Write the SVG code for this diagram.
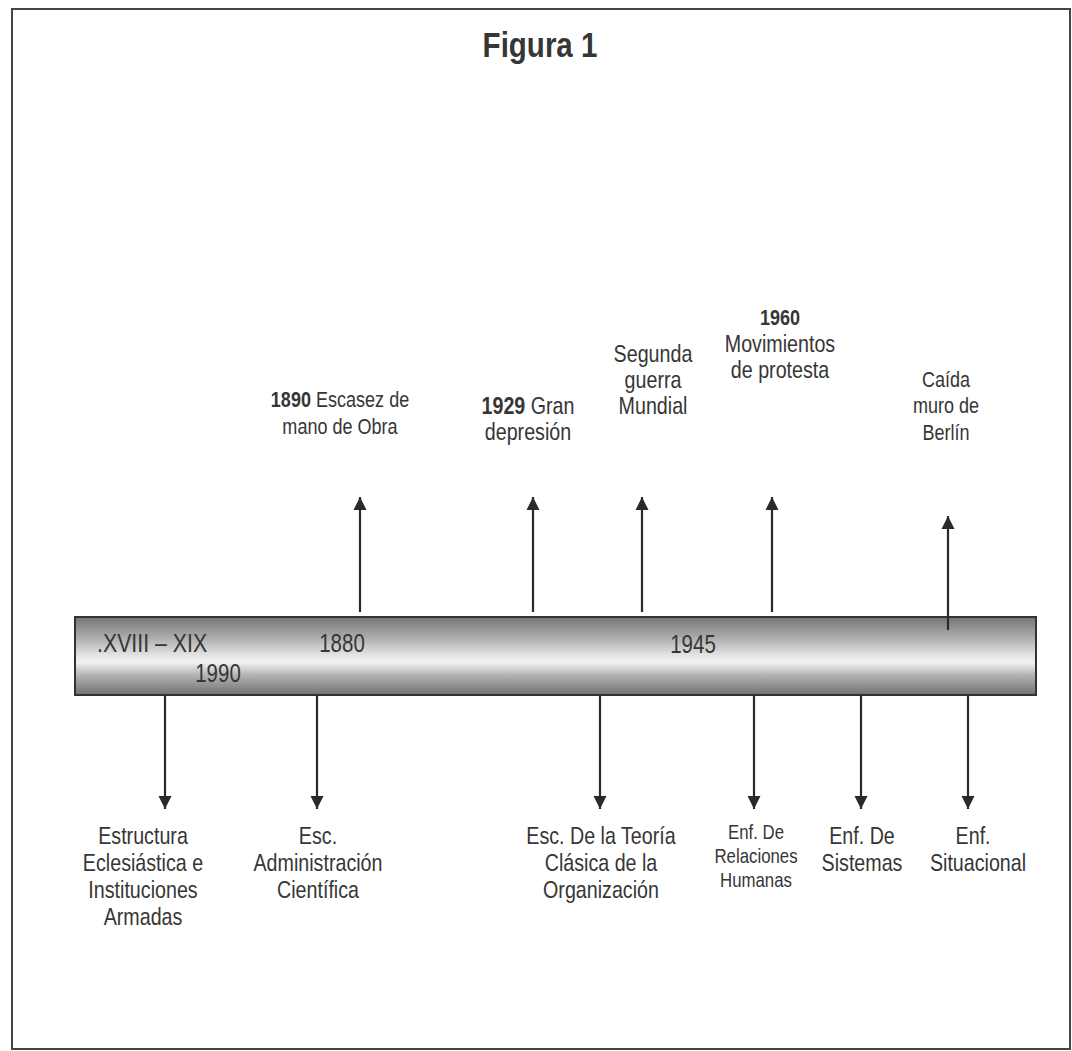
<svg xmlns="http://www.w3.org/2000/svg" width="1072" height="1051" viewBox="0 0 1072 1051">
<defs>
<linearGradient id="bar" x1="0" y1="0" x2="0" y2="1">
<stop offset="0" stop-color="#767676"/>
<stop offset="0.25" stop-color="#a9a9a9"/>
<stop offset="0.5" stop-color="#e6e6e6"/>
<stop offset="0.58" stop-color="#f2f2f2"/>
<stop offset="0.75" stop-color="#b2b2b2"/>
<stop offset="1" stop-color="#717171"/>
</linearGradient>
<marker id="ah" viewBox="0 0 10 10" refX="10" refY="5" markerWidth="6" markerHeight="6" markerUnits="strokeWidth" orient="auto">
<path d="M0,0 L10,5 L0,10 z" fill="#2a2a2a"/>
</marker>
</defs>
<style>
.t{font-family:"Liberation Sans",Arial,sans-serif;fill:#363636;text-anchor:middle;font-size:24px}
.m{font-size:22px}
.sm{font-size:20.5px}
.b{font-weight:bold}
.c{stroke:#2a2a2a;stroke-width:2.2;fill:none;marker-end:url(#ah)}
</style>
<rect x="0" y="0" width="1072" height="1051" fill="#fff"/>
<rect x="12" y="9" width="1058" height="1040" fill="none" stroke="#444" stroke-width="2"/>
<text class="t b" transform="translate(540,0) scale(0.82,1)" x="0" y="57" style="font-size:36px">Figura 1</text>

<g id="timeline">
<rect x="75" y="617" width="961" height="78" fill="url(#bar)" stroke="#333" stroke-width="2"/>
<text class="t" transform="translate(97,0) scale(0.82,1)" x="0" y="652" style="text-anchor:start;font-size:26px">.XVIII – XIX</text>
<text class="t" transform="translate(342,0) scale(0.82,1)" x="0" y="652" style="font-size:25px">1880</text>
<text class="t" transform="translate(218,0) scale(0.82,1)" x="0" y="682" style="font-size:25px">1990</text>
<text class="t" transform="translate(693,0) scale(0.82,1)" x="0" y="653" style="font-size:25px">1945</text>
</g>

<g id="connectors">
<line class="c" x1="360" y1="612" x2="360" y2="497"/>
<line class="c" x1="533" y1="612" x2="533" y2="497"/>
<line class="c" x1="642" y1="612" x2="642" y2="497"/>
<line class="c" x1="772" y1="612" x2="772" y2="497"/>
<line class="c" x1="948" y1="630" x2="948" y2="516"/>
<line class="c" x1="165" y1="695" x2="165" y2="809"/>
<line class="c" x1="317" y1="695" x2="317" y2="809"/>
<line class="c" x1="600" y1="695" x2="600" y2="809"/>
<line class="c" x1="754" y1="695" x2="754" y2="809"/>
<line class="c" x1="861" y1="695" x2="861" y2="809"/>
<line class="c" x1="968" y1="695" x2="968" y2="809"/>
</g>

<g id="n1890" transform="translate(340,0) scale(0.82,1)"><text class="t m" x="0" y="407"><tspan class="b">1890</tspan> Escasez de</text><text class="t m" x="0" y="434">mano de Obra</text></g>
<g id="n1929" transform="translate(528,0) scale(0.82,1)"><text class="t" x="0" y="414"><tspan class="b">1929</tspan> Gran</text><text class="t" x="0" y="440">depresión</text></g>
<g id="nSegunda" transform="translate(653,0) scale(0.82,1)"><text class="t" x="0" y="362">Segunda</text><text class="t" x="0" y="388">guerra</text><text class="t" x="0" y="414">Mundial</text></g>
<g id="n1960" transform="translate(780,0) scale(0.82,1)"><text class="t b m" x="0" y="325">1960</text><text class="t" x="0" y="352">Movimientos</text><text class="t" x="0" y="378">de protesta</text></g>
<g id="nBerlin" transform="translate(946,0) scale(0.82,1)"><text class="t m" x="0" y="387">Caída</text><text class="t m" x="0" y="413">muro de</text><text class="t m" x="0" y="440">Berlín</text></g>

<g id="nEstructura" transform="translate(143,0) scale(0.82,1)"><text class="t" x="0" y="844">Estructura</text><text class="t" x="0" y="871">Eclesiástica e</text><text class="t" x="0" y="898">Instituciones</text><text class="t" x="0" y="925">Armadas</text></g>
<g id="nAdmin" transform="translate(318,0) scale(0.82,1)"><text class="t" x="0" y="844">Esc.</text><text class="t" x="0" y="871">Administración</text><text class="t" x="0" y="898">Científica</text></g>
<g id="nClasica" transform="translate(601,0) scale(0.82,1)"><text class="t" x="0" y="844">Esc. De la Teoría</text><text class="t" x="0" y="871">Clásica de la</text><text class="t" x="0" y="898">Organización</text></g>
<g id="nRelaciones" transform="translate(756,0) scale(0.82,1)"><text class="t sm" x="0" y="839">Enf. De</text><text class="t sm" x="0" y="863">Relaciones</text><text class="t sm" x="0" y="887">Humanas</text></g>
<g id="nSistemas" transform="translate(862,0) scale(0.82,1)"><text class="t" x="0" y="844">Enf. De</text><text class="t" x="0" y="871">Sistemas</text></g>
<g id="nSituacional" transform="translate(978,0) scale(0.82,1)"><text class="t" x="-6" y="844">Enf.</text><text class="t" x="0" y="871">Situacional</text></g>
</svg>
